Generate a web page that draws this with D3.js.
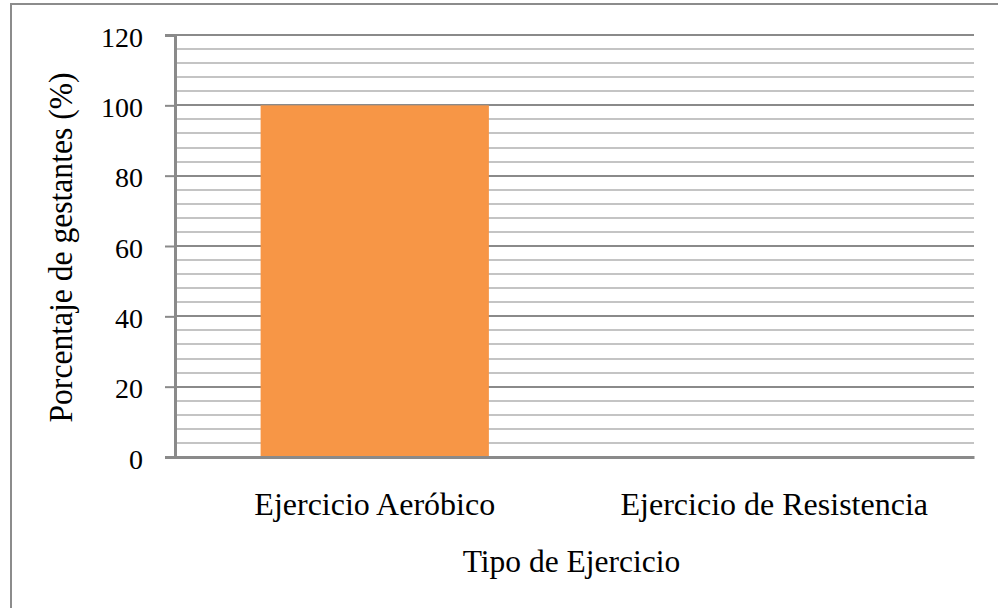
<!DOCTYPE html>
<html>
<head>
<meta charset="utf-8">
<script src="https://cdn.jsdelivr.net/npm/d3@7"></script>
<style>
  html, body { margin: 0; padding: 0; background: #fff; }
  svg { display: block; }
  text { font-family: "Liberation Serif", "Times New Roman", serif; fill: #000; }
</style>
</head>
<body>
<svg id="chart" width="998" height="608"></svg>
<script>
// Exercise type vs. share of pregnant women
const categories = ["Ejercicio Aeróbico", "Ejercicio de Resistencia"];
const values = [100, 0];
const yTicks = [0, 20, 40, 60, 80, 100, 120];
const yMinorStep = 4;
const yTitle = "Porcentaje de gestantes (%)";
const xTitle = "Tipo de Ejercicio";

const W = 998, H = 608;
const plot = { left: 175, right: 974, top: 35, bottom: 457 };
const serif = "'Liberation Serif', 'Times New Roman', serif";

const svg = d3.select("#chart");

// outer chart frame
svg.append("rect")
  .attr("x", 11).attr("y", 4)
  .attr("width", W + 20).attr("height", H + 20)
  .attr("fill", "#fff").attr("stroke", "#8c8c8c").attr("stroke-width", 2);

const x = d3.scaleBand()
  .domain(categories)
  .range([plot.left, plot.right])
  .paddingInner(0.4286).paddingOuter(0.2143);

const y = d3.scaleLinear().domain([0, 120]).range([plot.bottom, plot.top]);

// minor gridlines
const minor = d3.range(0, 120 + 0.001, yMinorStep).filter(v => v % 20 !== 0);
svg.append("g").selectAll("line").data(minor).join("line")
  .attr("x1", plot.left).attr("x2", plot.right)
  .attr("y1", d => Math.round(y(d))).attr("y2", d => Math.round(y(d)))
  .attr("stroke", "#c4c4c4").attr("stroke-width", 2);

// major gridlines
svg.append("g").selectAll("line").data(yTicks.filter(v => v > 0)).join("line")
  .attr("x1", plot.left).attr("x2", plot.right)
  .attr("y1", d => Math.round(y(d))).attr("y2", d => Math.round(y(d)))
  .attr("stroke", "#8a8a8a").attr("stroke-width", 2);

// bars
svg.append("g").selectAll("rect").data(categories).join("rect")
  .attr("x", d => x(d))
  .attr("width", x.bandwidth())
  .attr("y", (d, i) => y(values[i]))
  .attr("height", (d, i) => y(0) - y(values[i]))
  .attr("fill", "#f79646");

// y axis
const yAxis = d3.axisLeft(y).tickValues(yTicks).tickSize(10).tickPadding(22).tickFormat(d3.format("d"));
const gy = svg.append("g").attr("transform", `translate(${plot.left},0)`).call(yAxis);
gy.attr("font-family", serif).attr("font-size", 28);
gy.select(".domain").attr("stroke", "#8a8a8a").attr("stroke-width", 3);
gy.selectAll(".tick line").attr("stroke", "#8a8a8a").attr("stroke-width", 2);
gy.selectAll(".tick text").attr("fill", "#000").attr("dy", "0.4em");

// x axis
const xAxis = d3.axisBottom(x).tickSize(0).tickPadding(0);
const gx = svg.append("g").attr("transform", `translate(0,${plot.bottom})`).call(xAxis);
gx.attr("font-family", serif).attr("font-size", 32);
gx.select(".domain").attr("stroke", "#8a8a8a").attr("stroke-width", 3);
gx.selectAll(".tick text").attr("fill", "#000").attr("y", 58).attr("dy", 0);

// axis titles
svg.append("text")
  .attr("x", (plot.left + plot.right) / 2 - 3).attr("y", 572)
  .attr("text-anchor", "middle").attr("font-size", 31.5)
  .text(xTitle);

svg.append("text")
  .attr("transform", `translate(72,${(plot.top + plot.bottom) / 2 + 1.5}) rotate(-90)`)
  .attr("text-anchor", "middle").attr("font-size", 33)
  .attr("textLength", 350).attr("lengthAdjust", "spacingAndGlyphs")
  .text(yTitle);
</script>
</body>
</html>
